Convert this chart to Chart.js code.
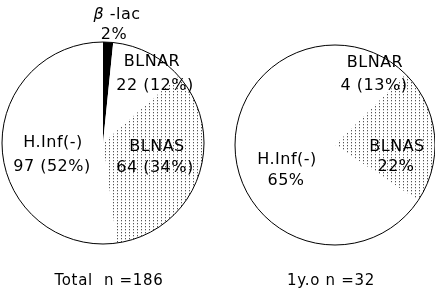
<!DOCTYPE html>
<html><head><meta charset="utf-8">
<script src="https://cdn.jsdelivr.net/npm/chart.js@4"></script>
<style>
html,body{margin:0;padding:0;background:#fff;width:435px;height:295px;overflow:hidden}
#l{position:absolute;left:0;top:0;width:210px;height:295px}
#r{position:absolute;left:218px;top:0;width:217px;height:295px}
</style></head><body>
<div id="l"><canvas id="c1"></canvas></div>
<div id="r"><canvas id="c2"></canvas></div>
<script>
// ---- data ----
const categoriesTotal = ['β -lac', 'BLNAR', 'BLNAS', 'H.Inf(-)'];
const valuesTotal = [3, 22, 64, 97];
const subLabelsTotal = ['2%', '22 (12%)', '64 (34%)', '97 (52%)'];
const titleTotal = 'Total  n =186';

const categories1yo = ['BLNAR', 'BLNAS', 'H.Inf(-)'];
const values1yo = [4, 7, 21];
const subLabels1yo = ['4 (13%)', '22%', '65%'];
const title1yo = '1y.o n =32';

// ---- styling / layout ----
function makeDots() {
  const c = document.createElement('canvas');
  c.width = 4; c.height = 3;
  const g = c.getContext('2d');
  g.fillStyle = '#fff'; g.fillRect(0, 0, 4, 3);
  g.fillStyle = '#555'; g.fillRect(1, 1, 1, 1);
  g.fillStyle = '#ccc'; g.fillRect(1, 2, 1, 1);
  return g.createPattern(c, 'repeat');
}
const dots = makeDots();
const fills = {'β -lac': '#000', 'BLNAR': '#fff', 'BLNAS': dots, 'H.Inf(-)': '#fff'};

// label offsets from pie centre: [dx1, dy1, dx2, dy2]
const offsTotal = [[14, -128, 11, -108], [49, -81, 52, -57], [54, 4, 52, 25], [-50, 0, -51, 24]];
const offs1yo = [[40, -82, 39, -59], [62, 2, 61, 22], [-48, 15, -49, 36]];

const FONT = '"DejaVu Sans", sans-serif';

function drawSpaced(ctx, text, cx, cy, italicFirstChar, size) {
  ctx.textBaseline = 'middle';
  ctx.textAlign = 'left';
  if (italicFirstChar) {
    const first = text[0], rest = text.slice(1);
    ctx.font = 'italic ' + size + 'px ' + FONT;
    const w1 = ctx.measureText(first).width;
    ctx.font = size + 'px ' + FONT;
    const w2 = ctx.measureText(rest).width;
    const x0 = cx - (w1 + w2) / 2;
    ctx.font = 'italic ' + size + 'px ' + FONT;
    ctx.fillText(first, x0, cy);
    ctx.font = size + 'px ' + FONT;
    ctx.fillText(rest, x0 + w1, cy);
  } else {
    ctx.font = size + 'px ' + FONT;
    const w = ctx.measureText(text).width;
    ctx.fillText(text, cx - w / 2, cy);
  }
}

const deco = {
  id: 'deco',
  afterDatasetsDraw(chart, args, o) {
    const ctx = chart.ctx;
    const arc = chart.getDatasetMeta(0).data[0];
    const {x, y, outerRadius} = arc.getProps(['x', 'y', 'outerRadius'], true);
    ctx.save();
    ctx.beginPath();
    ctx.arc(x, y, outerRadius, 0, Math.PI * 2);
    ctx.lineWidth = 1;
    ctx.strokeStyle = '#000';
    ctx.stroke();
    ctx.fillStyle = '#000';
    ctx.letterSpacing = '0.5px';
    o.cats.forEach((cat, i) => {
      const f = o.offs[i];
      drawSpaced(ctx, cat, x + f[0], y + f[1], cat.startsWith('β'), 16);
      drawSpaced(ctx, o.subs[i], x + f[2], y + f[3], false, 16);
    });
    ctx.letterSpacing = '0.7px';
    drawSpaced(ctx, o.title, o.titleX, 281, false, 15);
    ctx.restore();
  }
};

function makePie(id, cats, vals, subs, offs, title, titleX, pad) {
  return new Chart(document.getElementById(id), {
    type: 'pie',
    data: {
      labels: cats,
      datasets: [{
        data: vals,
        backgroundColor: cats.map(c => fills[c]),
        borderWidth: 0,
        hoverOffset: 0
      }]
    },
    options: {
      responsive: true,
      maintainAspectRatio: false,
      animation: false,
      events: [],
      layout: {padding: pad},
      plugins: {
        legend: {display: false},
        tooltip: {enabled: false},
        deco: {cats, subs, offs, title, titleX}
      }
    },
    plugins: [deco]
  });
}

makePie('c1', categoriesTotal, valuesTotal, subLabelsTotal, offsTotal, titleTotal, 109,
  {left: 2, right: 6, top: 42, bottom: 51});
makePie('c2', categories1yo, values1yo, subLabels1yo, offs1yo, title1yo, 113,
  {left: 17, right: 0, top: 45, bottom: 50});
</script>
</body></html>
